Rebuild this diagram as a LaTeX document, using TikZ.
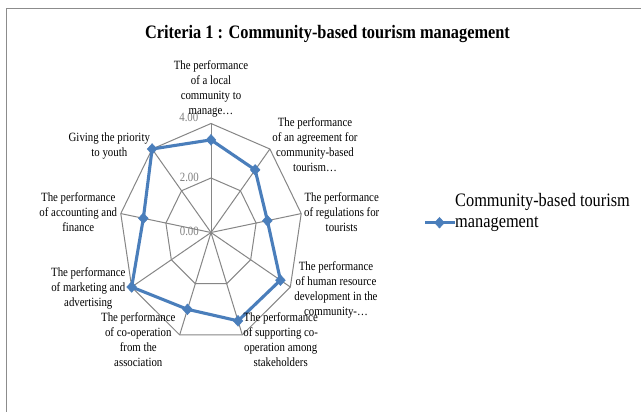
\documentclass[tikz,border=0pt]{standalone}
\usepackage{fontspec}
\setmainfont{Liberation Serif}
\newfontfamily\lblfont[FakeStretch=0.86]{Liberation Serif}
\usetikzlibrary{shapes.geometric}
\definecolor{serie}{HTML}{4A7EBB}
\definecolor{gridc}{HTML}{868686}
\definecolor{tickc}{HTML}{7F7F7F}
\definecolor{framec}{HTML}{8C8C8C}
\begin{document}
\begin{tikzpicture}[x=1pt,y=-1pt,
  lbl/.style={font=\lblfont\fontsize{12.6}{15}\selectfont, align=center, inner sep=0pt, text=black},
  ticklbl/.style={font=\lblfont\fontsize{12.6}{14}\selectfont, text=tickc, anchor=east, inner sep=0pt},
  gridline/.style={draw=gridc, line width=1pt},
  serieline/.style={draw=serie, line width=3.1pt, line join=round},
  mk/.style={diamond, fill=serie, draw=serie, inner sep=0pt, minimum width=10pt, minimum height=11pt}
]
\useasboundingbox (0,0) rectangle (641,412);
\fill[white] (0,0) rectangle (641,412);
\draw[framec, line width=1.5pt] (6.5,412) -- (6.5,8.5) -- (641,8.5);

\node[font=\lblfont\bfseries\fontsize{19}{22}\selectfont, anchor=base, inner sep=0pt] (title) at (327.5,39) {Criteria 1 : Community-based tourism management};

\def\cx{211}\def\cy{232.5}\def\ux{22.9}\def\uy{27.25}
\coordinate (c) at (\cx,\cy);
\foreach \k in {0,...,8} {
  \coordinate (o\k) at ({\cx+\ux*4*cos(90-40*\k)},{\cy-\uy*4*sin(90-40*\k)});
  \coordinate (h\k) at ({\cx+\ux*2*cos(90-40*\k)},{\cy-\uy*2*sin(90-40*\k)});
}
\draw[gridline] (o0) \foreach \k in {1,...,8}{ -- (o\k)} -- cycle;
\draw[gridline] (h0) \foreach \k in {1,...,8}{ -- (h\k)} -- cycle;
\foreach \k in {0,...,8} \draw[gridline] (c) -- (o\k);

\node[ticklbl] (t4) at (198.5,117.5) {4.00};
\node[ticklbl] (t2) at (199,177) {2.00};
\node[ticklbl] (t0) at (199,231) {0.00};

\foreach \v [count=\k from 0] in {3.4,3.0,2.5,3.5,3.45,3.0,4.0,3.0,4.0}
  \coordinate (p\k) at ({\cx+\ux*\v*cos(90-40*\k)},{\cy-\uy*\v*sin(90-40*\k)});
\draw[serieline] (p0) -- (p1) -- (p2) -- (p3) -- (p4) -- (p5) -- (p6) -- (p7) -- (p8) -- cycle;
\foreach \k in {0,...,8} \node[mk] (m\k) at (p\k) {};

\node[lbl] (l0) at (211,88.5) {The performance\\of a local\\community to\\manage\ldots};
\node[lbl] (l1) at (315,144.7) {The performance\\of an agreement for\\community-based\\tourism\ldots};
\node[lbl] (l2) at (341.7,212) {The performance\\of regulations for\\tourists};
\node[lbl] (l3) at (336,289.7) {The performance\\of human resource\\development in the\\community-\ldots};
\node[lbl] (l4) at (280.7,339.5) {The performance\\of supporting co-\\operation among\\stakeholders};
\node[lbl] (l5) at (138.3,339.5) {The performance\\of co-operation\\from the\\association};
\node[lbl] (l6) at (88.3,288.3) {The performance\\of marketing and\\advertising};
\node[lbl] (l7) at (78.3,212.5) {The performance\\of accounting and\\finance};
\node[lbl] (l8) at (109.3,145.5) {Giving the priority\\to youth};

\coordinate (lgA) at (425,222.7);
\coordinate (lgB) at (455,222.7);
\draw[serieline] (lgA) -- (lgB);
\node[mk] (lgm) at (439.5,222.7) {};
\node[font=\lblfont\fontsize{19}{21}\selectfont, anchor=base west, align=left, inner sep=0pt] (lgt) at (455,227.3) {Community-based tourism\\management};
\end{tikzpicture}
\end{document}
